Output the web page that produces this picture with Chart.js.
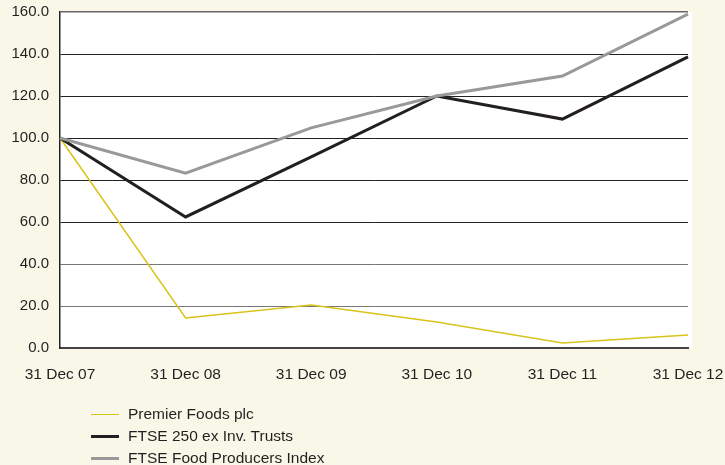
<!DOCTYPE html>
<html>
<head>
<meta charset="utf-8">
<script src="https://cdn.jsdelivr.net/npm/chart.js@4.4.1/dist/chart.umd.min.js"></script>
<style>
	html, body { margin: 0; padding: 0; background: #f9f7e8; }
	#wrap { position: relative; width: 725px; height: 465px; }
	#legend { position: absolute; left: 91px; top: 403px; font: 15.5px "Liberation Sans", Arial, sans-serif; color: #231f20; }
	#legend div { height: 22px; line-height: 22px; display: flex; align-items: center; }
	#legend span.key { display: inline-block; width: 28px; margin-right: 9px; }
</style>
</head>
<body>
<div id="wrap">
	<canvas id="chart" width="725" height="465"></canvas>
	<div id="legend"></div>
</div>
<script>
const categories = ["31 Dec 07", "31 Dec 08", "31 Dec 09", "31 Dec 10", "31 Dec 11", "31 Dec 12"];
const premier_foods = [100, 14.3, 20.5, 12.4, 2.4, 6.2];
const ftse_250 = [100, 62.4, 91, 120, 109, 138.6];
const food_producers = [100, 83.3, 104.8, 120, 129.5, 159];
const y_ticks = [0, 20, 40, 60, 80, 100, 120, 140, 160];

const series = [
	{ label: "Premier Foods plc", data: premier_foods, color: "#d8c418", width: 1.5 },
	{ label: "FTSE 250 ex Inv. Trusts", data: ftse_250, color: "#231f20", width: 3 },
	{ label: "FTSE Food Producers Index", data: food_producers, color: "#999999", width: 3 },
];

const ink = "#231f20";
const font_family = "'Liberation Sans', Arial, sans-serif";

// white plot background (runs a little past the last point, as in the source)
const plot_bg = {
	id: "plot_bg",
	beforeDraw(chart) {
		const a = chart.chartArea;
		const ctx = chart.ctx;
		ctx.save();
		ctx.fillStyle = "#ffffff";
		ctx.fillRect(a.left, a.top, a.right - a.left + 4, a.bottom - a.top);
		ctx.restore();
	},
};

new Chart(document.getElementById("chart"), {
	type: "line",
	data: {
		labels: categories,
		datasets: series.map((s, i) => ({
			label: s.label,
			data: s.data,
			borderColor: s.color,
			borderWidth: s.width,
			pointRadius: 0,
			tension: 0,
			fill: false,
			order: 2 - i,
		})),
	},
	options: {
		responsive: false,
		animation: false,
		layout: { padding: { left: 0, right: 37, top: 12, bottom: 70 } },
		plugins: { legend: { display: false }, tooltip: { enabled: false } },
		scales: {
			x: {
				offset: false,
				grid: { display: false },
				border: { color: "#444", width: 2 },
				ticks: { color: ink, font: { family: font_family, size: 15.5 }, maxRotation: 0, autoSkip: false, padding: 9 },
				afterFit: (s) => {
					s.height = 47;
					s.paddingLeft = 0;
					s.paddingRight = 0;
				},
			},
			y: {
				min: 0,
				max: 160,
				afterBuildTicks: (s) => { s.ticks = y_ticks.map((v) => ({ value: v })); },
				grid: {
					color: (c) => (c.tick.value === 0 ? "rgba(0,0,0,0)" : c.tick.value <= 40 ? "#777" : c.tick.value === 160 ? "#666" : "#222"),
					lineWidth: (c) => (c.tick.value === 160 ? 1.5 : 1),
					drawTicks: false,
				},
				border: { color: "#222", width: 1.5 },
				ticks: { color: ink, font: { family: font_family, size: 15 }, padding: 11, callback: (v) => v.toFixed(1) },
				afterFit: (s) => {
					s.width = 60;
					s.paddingTop = 0;
					s.paddingBottom = 0;
				},
			},
		},
	},
	plugins: [plot_bg],
});

const legend = document.getElementById("legend");
series.forEach((s) => {
	const row = document.createElement("div");
	const key = document.createElement("span");
	key.className = "key";
	key.style.borderTop = s.width + "px solid " + s.color;
	row.appendChild(key);
	row.appendChild(document.createTextNode(s.label));
	legend.appendChild(row);
});
</script>
</body>
</html>
